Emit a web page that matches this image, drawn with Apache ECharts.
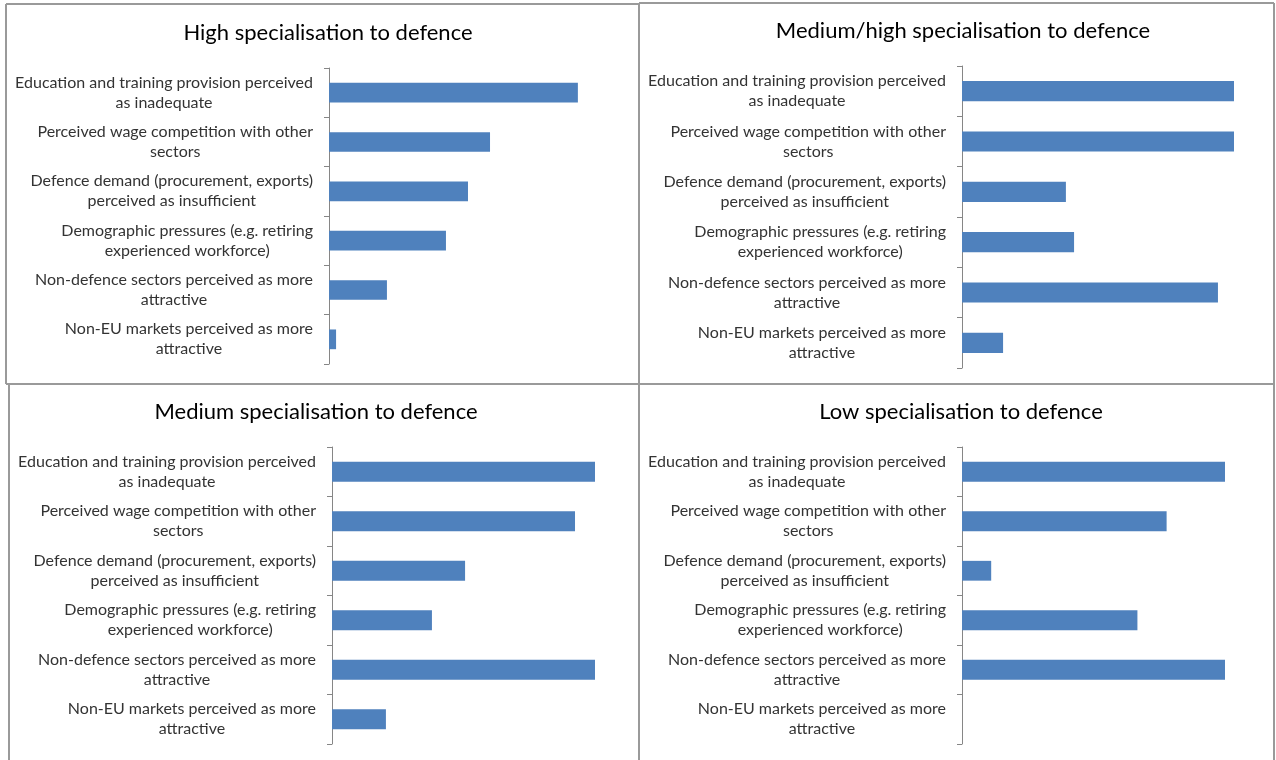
<!DOCTYPE html>
<html>
<head>
<meta charset="utf-8">
<script src="https://cdn.jsdelivr.net/npm/echarts@6/dist/echarts.min.js"></script>
<style>
  html, body { margin: 0; padding: 0; background: #ffffff; }
  #chart { width: 1276px; height: 760px; }
</style>
</head>
<body>
<div id="chart"></div>
<script>
// Factors reported as affecting skills supply, by specialisation group (%)
const categories = [
  'Education and training provision perceived\nas inadequate',
  'Perceived wage competition with other\nsectors',
  'Defence demand (procurement, exports)\nperceived as insufficient',
  'Demographic pressures (e.g. retiring\nexperienced workforce)',
  'Non-defence sectors perceived as more\nattractive',
  'Non-EU markets perceived as more\nattractive'
];

const panelTitles = [
  'High specialisation to defence',
  'Medium/high specialisation to defence',
  'Medium specialisation to defence',
  'Low specialisation to defence'
];

const highValues       = [91.5, 59.2, 51.1, 43.0, 21.3, 2.6];
const mediumHighValues = [100, 100, 38.2, 41.2, 94.1, 15.1];
const mediumValues     = [100, 92.4, 50.6, 38.0, 100, 20.5];
const lowValues        = [100, 77.8, 11.1, 66.7, 100, 0];

const seriesValues = [highValues, mediumHighValues, mediumValues, lowValues];

// Panel geometry: plot area and title centre for each of the four charts
const panels = [
  { left: 329, top: 68,  width: 272, height: 296, titleX: 323, titleY: 17 },
  { left: 962, top: 66,  width: 272, height: 302, titleX: 958, titleY: 15 },
  { left: 332, top: 447, width: 263, height: 297, titleX: 311, titleY: 396 },
  { left: 962, top: 447, width: 263, height: 297, titleX: 956, titleY: 396 }
];

const FONT = 'Lato, "Liberation Sans", sans-serif';
const BAR_COLOR = '#4F81BD';
const AXIS_COLOR = '#868686';
const FRAME_COLOR = '#9a9a9a';

// Wrapped labels: block sits right of the axis gap, each line centred inside it
function centredLines(value) {
  return value.split('\n').map(s => '{c|' + s + '}').join('\n');
}

const option = {
  animation: false,
  backgroundColor: '#ffffff',
  textStyle: { fontFamily: FONT },
  title: panels.map((p, i) => ({
    text: panelTitles[i],
    left: p.titleX,
    top: p.titleY,
    textAlign: 'center',
    textStyle: { fontFamily: FONT, fontSize: 22, fontWeight: 'normal', color: '#000000' }
  })),
  grid: panels.map(p => ({ left: p.left, top: p.top, width: p.width, height: p.height, containLabel: false })),
  xAxis: panels.map((p, i) => ({
    gridIndex: i,
    type: 'value',
    min: 0,
    max: 100,
    show: false
  })),
  yAxis: panels.map((p, i) => ({
    gridIndex: i,
    type: 'category',
    data: categories,
    inverse: true,
    axisLine: { show: true, lineStyle: { color: AXIS_COLOR, width: 1 } },
    axisTick: { show: true, length: 5, lineStyle: { color: AXIS_COLOR } },
    axisLabel: {
      margin: 16,
      align: 'right',
      formatter: centredLines,
      rich: {
        c: {
          align: 'center',
          color: '#333333',
          fontFamily: FONT,
          fontSize: 16,
          lineHeight: 20
        }
      }
    },
    splitLine: { show: false }
  })),
  series: seriesValues.map((vals, i) => ({
    type: 'bar',
    xAxisIndex: i,
    yAxisIndex: i,
    data: vals,
    barCategoryGap: '60%',
    itemStyle: { color: BAR_COLOR }
  })),
  graphic: [
    { type: 'line', shape: { x1: 6, y1: 4, x2: 639, y2: 4 }, style: { stroke: FRAME_COLOR, lineWidth: 2 } },
    { type: 'line', shape: { x1: 639, y1: 3, x2: 1274, y2: 3 }, style: { stroke: FRAME_COLOR, lineWidth: 2 } },
    { type: 'line', shape: { x1: 6, y1: 4, x2: 6, y2: 384 }, style: { stroke: FRAME_COLOR, lineWidth: 2 } },
    { type: 'line', shape: { x1: 9, y1: 384, x2: 9, y2: 760 }, style: { stroke: FRAME_COLOR, lineWidth: 2 } },
    { type: 'line', shape: { x1: 639, y1: 3, x2: 639, y2: 760 }, style: { stroke: FRAME_COLOR, lineWidth: 2 } },
    { type: 'line', shape: { x1: 1274, y1: 3, x2: 1274, y2: 760 }, style: { stroke: FRAME_COLOR, lineWidth: 2 } },
    { type: 'line', shape: { x1: 6, y1: 384, x2: 1274, y2: 384 }, style: { stroke: FRAME_COLOR, lineWidth: 2 } }
  ]
};

const chart = echarts.init(document.getElementById('chart'), null, { renderer: 'canvas' });
chart.setOption(option);
</script>
</body>
</html>
